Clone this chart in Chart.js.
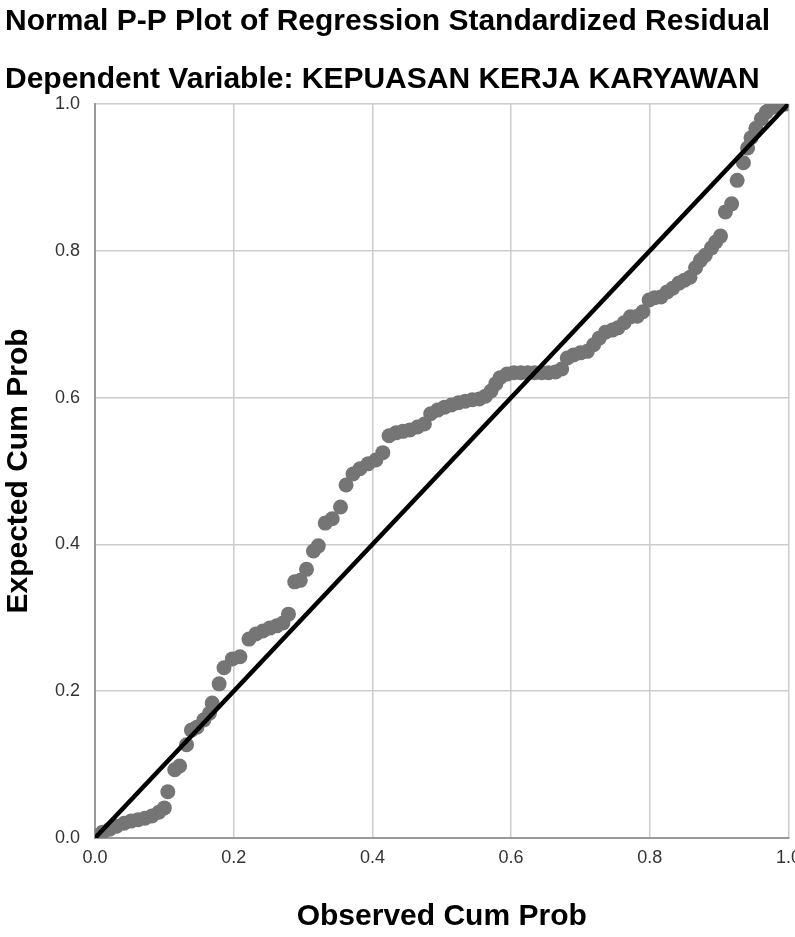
<!DOCTYPE html>
<html>
<head>
<meta charset="utf-8">
<script src="https://cdn.jsdelivr.net/npm/chart.js@4.4.1/dist/chart.umd.min.js"></script>
<style>
html,body{margin:0;padding:0;background:#fff;overflow:hidden;width:795px;height:937px;}
canvas{display:block;}
</style>
</head>
<body>
<canvas id="c" width="810" height="937"></canvas>
<script>
// Observed cumulative probability (x) and expected cumulative probability (y)
const observedCumProb = [0.003,0.011,0.021,0.031,0.042,0.052,0.062,0.072,0.082,0.092,0.100,0.105,0.115,0.122,0.132,0.139,0.147,0.157,0.165,0.169,0.179,0.186,0.198,0.209,0.222,0.232,0.242,0.252,0.262,0.271,0.279,0.288,0.296,0.305,0.315,0.322,0.332,0.342,0.354,0.362,0.372,0.382,0.394,0.405,0.415,0.424,0.434,0.444,0.454,0.465,0.475,0.484,0.494,0.504,0.514,0.524,0.534,0.544,0.554,0.563,0.571,0.578,0.584,0.594,0.604,0.614,0.624,0.634,0.644,0.654,0.664,0.673,0.681,0.690,0.700,0.710,0.719,0.727,0.736,0.746,0.754,0.763,0.772,0.782,0.790,0.799,0.807,0.816,0.825,0.833,0.842,0.850,0.858,0.866,0.873,0.880,0.889,0.895,0.902,0.909,0.918,0.926,0.935,0.941,0.946,0.953,0.961,0.968,0.975,0.982,0.989,0.996];
const expectedCumProb = [0.003,0.008,0.012,0.016,0.020,0.023,0.025,0.027,0.030,0.035,0.041,0.063,0.093,0.098,0.127,0.147,0.151,0.161,0.170,0.184,0.210,0.232,0.244,0.247,0.271,0.278,0.282,0.286,0.289,0.293,0.305,0.349,0.351,0.366,0.391,0.398,0.429,0.435,0.451,0.481,0.496,0.503,0.510,0.515,0.525,0.548,0.552,0.554,0.556,0.560,0.564,0.578,0.583,0.587,0.590,0.593,0.595,0.597,0.598,0.602,0.609,0.619,0.627,0.632,0.634,0.634,0.634,0.634,0.634,0.634,0.635,0.639,0.654,0.658,0.661,0.663,0.672,0.681,0.689,0.692,0.695,0.702,0.710,0.711,0.717,0.733,0.736,0.737,0.744,0.749,0.756,0.760,0.764,0.777,0.787,0.794,0.804,0.812,0.820,0.853,0.864,0.896,0.920,0.940,0.954,0.967,0.980,0.989,0.995,0.997,0.999,1.000];
// Diagonal reference line endpoints
const diagonalX = [0, 1];
const diagonalY = [0, 1];
// Tick values
const tickValues = [0, 0.2, 0.4, 0.6, 0.8, 1.0];

const titleText = 'Normal P-P Plot of Regression Standardized Residual';
const subtitleText = 'Dependent Variable: KEPUASAN KERJA KARYAWAN';
const xTitle = 'Observed Cum Prob';
const yTitle = 'Expected Cum Prob';

const points = observedCumProb.map((x, i) => ({x: x, y: expectedCumProb[i]}));
const diag = diagonalX.map((x, i) => ({x: x, y: diagonalY[i]}));

const FONT = "'Liberation Sans', Arial, sans-serif";

new Chart(document.getElementById('c'), {
  type: 'scatter',
  data: {
    datasets: [
      {
        type: 'line',
        data: diag,
        borderColor: '#000000',
        borderWidth: 4.5,
        pointRadius: 0,
        fill: false,
        order: 0
      },
      {
        type: 'scatter',
        data: points,
        backgroundColor: '#757575',
        borderWidth: 0,
        pointRadius: 7.5,
        order: 1
      }
    ]
  },
  options: {
    responsive: false,
    animation: false,
    devicePixelRatio: 1,
    layout: { padding: { left: 5, right: 17, top: 0, bottom: 0 } },
    plugins: {
      legend: { display: false },
      tooltip: { enabled: false },
      title: {
        display: true,
        text: titleText,
        align: 'start',
        color: '#000',
        font: { family: FONT, size: 30, weight: 'bold', lineHeight: 1.2 },
        padding: { top: 4, bottom: 22 }
      },
      subtitle: {
        display: true,
        text: subtitleText,
        align: 'start',
        color: '#000',
        font: { family: FONT, size: 30, weight: 'bold', lineHeight: 1.2 },
        padding: { top: 0, bottom: 6 }
      }
    },
    scales: {
      x: {
        type: 'linear',
        min: 0, max: 1,
        afterBuildTicks: (s) => { s.ticks = tickValues.map(v => ({value: v})); },
        afterFit: (s) => { s.height = 99; },
        ticks: {
          callback: (v) => Number(v).toFixed(1),
          color: '#333',
          font: { family: FONT, size: 18 },
          padding: 9,
          maxRotation: 0,
          autoSkip: false
        },
        grid: { color: '#cccccc', lineWidth: 1.5, drawTicks: false },
        border: { color: '#999999', width: 2 },
        title: {
          display: true,
          text: xTitle,
          color: '#000',
          font: { family: FONT, size: 30, weight: 'bold', lineHeight: 1.2 },
          padding: { top: 0, bottom: 2 }
        }
      },
      y: {
        type: 'linear',
        min: 0, max: 1,
        afterBuildTicks: (s) => { s.ticks = tickValues.map(v => ({value: v})); },
        afterFit: (s) => { s.width = 90; },
        ticks: {
          callback: (v) => Number(v).toFixed(1),
          color: '#333',
          font: { family: FONT, size: 18 },
          padding: 15,
          autoSkip: false
        },
        grid: { color: '#cccccc', lineWidth: 1.5, drawTicks: false },
        border: { color: '#999999', width: 2 },
        title: {
          display: true,
          text: yTitle,
          color: '#000',
          font: { family: FONT, size: 30, weight: 'bold', lineHeight: 1.2 },
          padding: { top: -4, bottom: 0 }
        }
      }
    }
  }
});
</script>
</body>
</html>
